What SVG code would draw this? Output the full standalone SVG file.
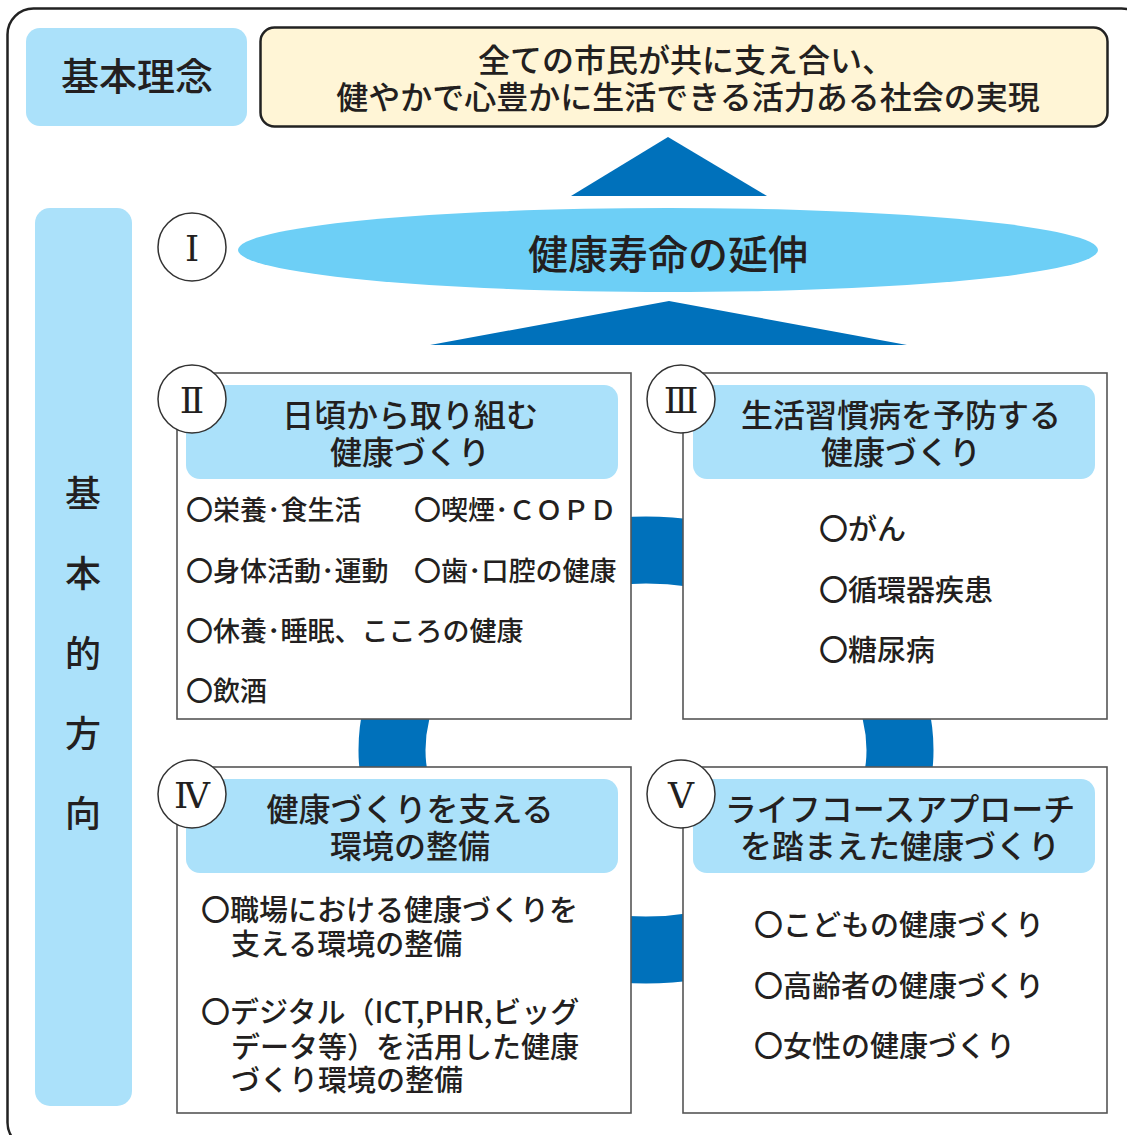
<svg xmlns="http://www.w3.org/2000/svg" width="1127" height="1135" viewBox="0 0 1127 1135">
<style>
text{font-family:"Noto Sans CJK JP","Noto Sans",sans-serif;fill:#231f20;dominant-baseline:central;font-weight:500}
.c{text-anchor:middle}
.t{font-size:32px}
.i{font-size:29px}
.i2{font-size:27px}
.box{fill:#fff;stroke:#555;stroke-width:1.6}
.hd{fill:#abe1fa}
.num{fill:#fff;stroke:#333;stroke-width:1.5}
.rn{font-family:"DejaVu Serif","Liberation Serif","Noto Sans CJK JP",serif;font-size:36px;text-anchor:middle;font-weight:400}
.blue{fill:#0071bb}
</style>
<rect x="7.5" y="8.5" width="1140" height="1140" rx="26" fill="#fff" stroke="#222" stroke-width="2.5"/>
<g id="rinen-label">
<rect x="26" y="28" width="221" height="98" rx="14" fill="#abe1fa"/>
<text class="c" x="137" y="73" font-size="38">基本理念</text>
</g>
<g id="rinen">
<rect x="260.5" y="27.5" width="847" height="99" rx="14" fill="#fff5d6" stroke="#222" stroke-width="2.5"/>
<text class="c t" x="686" y="58">全ての市民が共に支え合い、</text>
<text class="c t" x="688" y="95">健やかで心豊かに生活できる活力ある社会の実現</text>
</g>
<g id="houkou-label">
<rect x="35" y="208" width="97" height="898" rx="15" fill="#abe1fa"/>
<g class="c" font-size="36">
<text x="83" y="491">基</text>
<text x="83" y="571">本</text>
<text x="83" y="651">的</text>
<text x="83" y="731">方</text>
<text x="83" y="811">向</text>
</g>
</g>
<g id="connectors">
<polygon class="blue" points="668,137 767,196 571,196"/>
<polygon class="blue" points="669,301 907,345 430,345"/>
<ellipse cx="646" cy="750" rx="254" ry="200" fill="none" stroke="#0071bb" stroke-width="67"/>
</g>
<g id="node-1">
<ellipse cx="668" cy="250" rx="430" ry="42" fill="#6dcff6"/>
<text class="c" x="668" y="252" font-size="40">健康寿命の延伸</text>
<circle class="num" cx="192" cy="247" r="34"/>
<text class="rn" x="192" y="248">Ⅰ</text>
</g>
<g id="node-2">
<rect class="box" x="177" y="373" width="454" height="346"/>
<rect class="hd" x="186" y="385" width="432" height="94" rx="14"/>
<text class="c t" x="410" y="413">日頃から取り組む</text>
<text class="c t" x="410" y="450">健康づくり</text>
<g class="i2">
<text x="186" y="508">〇栄養･食生活</text>
<text x="414" y="508">〇喫煙･ＣＯＰＤ</text>
<text x="186" y="569">〇身体活動･運動</text>
<text x="414" y="569">〇歯･口腔の健康</text>
<text x="186" y="629">〇休養･睡眠、こころの健康</text>
<text x="186" y="689">〇飲酒</text>
</g>
<circle class="num" cx="192" cy="399" r="34"/>
<text class="rn" x="192" y="400">Ⅱ</text>
</g>
<g id="node-3">
<rect class="box" x="683" y="373" width="424" height="346"/>
<rect class="hd" x="693" y="385" width="402" height="94" rx="14"/>
<text class="c t" x="901" y="413">生活習慣病を予防する</text>
<text class="c t" x="901" y="450">健康づくり</text>
<g class="i">
<text x="819" y="527">〇がん</text>
<text x="819" y="588">〇循環器疾患</text>
<text x="819" y="648">〇糖尿病</text>
</g>
<circle class="num" cx="681" cy="399" r="34"/>
<text class="rn" x="681" y="400">Ⅲ</text>
</g>
<g id="node-4">
<rect class="box" x="177" y="767" width="454" height="346"/>
<rect class="hd" x="186" y="779" width="432" height="94" rx="14"/>
<text class="c t" x="410" y="807">健康づくりを支える</text>
<text class="c t" x="410" y="844">環境の整備</text>
<g class="i">
<text x="201" y="908">〇職場における健康づくりを</text>
<text x="231" y="942">支える環境の整備</text>
<text x="201" y="1010">〇デジタル（ICT,PHR,ビッグ</text>
<text x="231" y="1045">データ等）を活用した健康</text>
<text x="231" y="1078">づくり環境の整備</text>
</g>
<circle class="num" cx="192" cy="794" r="34"/>
<text class="rn" x="192" y="795">Ⅳ</text>
</g>
<g id="node-5">
<rect class="box" x="683" y="767" width="424" height="346"/>
<rect class="hd" x="693" y="779" width="402" height="94" rx="14"/>
<text class="c t" x="900" y="807">ライフコースアプローチ</text>
<text class="c t" x="900" y="844">を踏まえた健康づくり</text>
<g class="i">
<text x="754" y="923">〇こどもの健康づくり</text>
<text x="754" y="984">〇高齢者の健康づくり</text>
<text x="754" y="1044">〇女性の健康づくり</text>
</g>
<circle class="num" cx="681" cy="794" r="34"/>
<text class="rn" x="681" y="795">Ⅴ</text>
</g>
</svg>
